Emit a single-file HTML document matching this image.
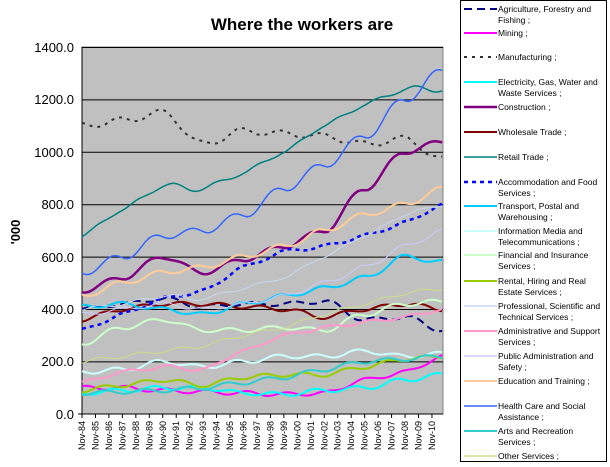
<!DOCTYPE html>
<html><head><meta charset="utf-8"><style>
body{margin:0;background:#fff;font-family:"Liberation Sans",Arial,sans-serif}
</style></head><body>
<svg id="s" width="610" height="462" xmlns="http://www.w3.org/2000/svg" font-family="Liberation Sans, Arial, sans-serif">
<rect x="0" y="0" width="610" height="462" fill="#fff"/>
<text x="302" y="30" font-size="17" font-weight="bold" text-anchor="middle">Where the workers are</text>
<rect x="82" y="47" width="361" height="367" fill="#c0c0c0" stroke="#808080"/>
<g stroke="#000" stroke-width="1">
<line x1="82" x2="443" y1="47.5" y2="47.5"/><line x1="82" x2="443" y1="99.9" y2="99.9"/>
<line x1="82" x2="443" y1="152.3" y2="152.3"/><line x1="82" x2="443" y1="204.7" y2="204.7"/>
<line x1="82" x2="443" y1="257.1" y2="257.1"/><line x1="82" x2="443" y1="309.5" y2="309.5"/>
<line x1="82" x2="443" y1="361.9" y2="361.9"/>
<line x1="82" x2="82" y1="47" y2="414"/><line x1="78" x2="443" y1="414" y2="414"/>
</g>
<g font-size="13" text-anchor="end">
<text x="74" y="52">1400.0</text><text x="74" y="104">1200.0</text><text x="74" y="157">1000.0</text>
<text x="74" y="209">800.0</text><text x="74" y="262">600.0</text><text x="74" y="314">400.0</text>
<text x="74" y="366">200.0</text><text x="74" y="419">0.0</text>
</g>
<text transform="translate(20,232) rotate(-90)" font-size="13" font-weight="bold" text-anchor="middle">'000</text>
<g id="ticks" font-size="9"></g>
<g id="series" fill="none"></g>
<rect x="460.5" y="0.5" width="146" height="461" fill="#fff" stroke="#000"/>
<g id="leg" font-size="8.5"></g>
</svg>
<script>
var Y=function(v){return 414-v*0.2621};
var X=function(t){return 82+13.46*t};
var ts=[0,3,6,9,12,15,18,21,24,26.8];
var S=[
["#000080",2,"8,5",[400,420,440,410,420,420,430,360,370,320],"Agriculture, Forestry and|Fishing ;"],
["#ff00ff",2,"",[100,100,90,85,80,75,80,130,160,220],"Mining ;"],
["#333",2,"3,5",[1100,1120,1150,1030,1080,1070,1060,1030,1050,970],"Manufacturing ;"],
["#00ffff",2,"",[80,90,100,100,80,75,90,100,130,150],"Electricity, Gas, Water and|Waste Services ;"],
["#800080",2.5,"",[470,520,600,540,590,640,700,860,1000,1040],"Construction ;"],
["#800000",2,"",[360,400,420,420,410,400,370,400,420,400],"Wholesale Trade ;"],
["#008080",1.5,"",[680,780,870,860,920,1000,1100,1180,1240,1240],"Retail Trade ;"],
["#0000ff",2.5,"4,4",[320,380,440,470,560,620,640,680,730,800],"Accommodation and Food|Services ;"],
["#00ccff",2,"",[410,420,400,380,420,450,480,520,600,580],"Transport, Postal and|Warehousing ;"],
["#ccffff",2,"",[160,170,200,180,200,220,220,240,220,230],"Information Media and|Telecommunications ;"],
["#ccffcc",2,"",[270,330,360,320,320,330,320,380,420,430],"Financial and Insurance|Services ;"],
["#99cc00",2,"",[90,110,130,110,140,150,150,180,210,220],"Rental, Hiring and Real|Estate Services ;"],
["#c8d8f0",1,"",[400,420,450,440,480,520,600,680,760,800],"Professional, Scientific and|Technical Services ;"],
["#ff99cc",2,"",[120,160,180,170,240,300,330,350,370,400],"Administrative and Support|Services ;"],
["#ccccff",1,"",[380,400,420,400,420,450,500,560,640,700],"Public Administration and|Safety ;"],
["#ffcc99",2,"",[450,500,540,560,600,640,700,760,800,860],"Education and Training ;"],
["#3366ff",1.5,"",[540,600,680,700,760,860,950,1060,1200,1310],"Health Care and Social|Assistance ;"],
["#33cccc",2,"",[80,85,90,100,120,140,170,200,210,220],"Arts and Recreation|Services ;"],
["#ccdd88",1,"",[200,220,240,260,300,330,380,420,460,480],"Other Services ;"]
];
var ns="http://www.w3.org/2000/svg",g=document.getElementById("series"),L=document.getElementById("leg"),T=document.getElementById("ticks");
function interp(v,t){for(var i=0;i<ts.length-1;i++){if(t<=ts[i+1]){var f=(t-ts[i])/(ts[i+1]-ts[i]);f=(1-Math.cos(f*Math.PI))/2;return v[i]+(v[i+1]-v[i])*f}}return v[v.length-1]}
S.forEach(function(s,k){var d="";for(var t=0;t<=26.8;t+=0.25){var v=interp(s[3],t)+Math.sin(t*2.1+k)*8*(s[3][0]>500?1.5:1);d+=(d?"L":"M")+X(t).toFixed(1)+","+Y(v).toFixed(1)}
var p=document.createElementNS(ns,"path");p.setAttribute("d",d);p.setAttribute("stroke",s[0]);p.setAttribute("stroke-width",s[1]);if(s[2])p.setAttribute("stroke-dasharray",s[2]);g.appendChild(p);});
var ly=[9,33,57,82,107,132,157,182,206,231,255,281,306,331,356,381,406,431,456];
S.forEach(function(s,k){var y=ly[k];var l=document.createElementNS(ns,"line");l.setAttribute("x1",464);l.setAttribute("x2",497);l.setAttribute("y1",y);l.setAttribute("y2",y);l.setAttribute("stroke",s[0]);l.setAttribute("stroke-width",Math.max(s[1],1.5));if(s[2])l.setAttribute("stroke-dasharray",s[2]);L.appendChild(l);
s[4].split("|").forEach(function(tx,j){var e=document.createElementNS(ns,"text");e.setAttribute("x",498);e.setAttribute("y",y+3+j*11);e.textContent=tx;L.appendChild(e);});});
for(var i=0;i<=26;i++){var x=X(i);var l=document.createElementNS(ns,"line");l.setAttribute("x1",x);l.setAttribute("x2",x);l.setAttribute("y1",414);l.setAttribute("y2",418);l.setAttribute("stroke","#000");T.appendChild(l);
var e=document.createElementNS(ns,"text");var yy=(84+i)%100;e.textContent="Nov-"+(yy<10?"0":"")+yy;e.setAttribute("transform","translate("+(x+3)+",421) rotate(-90)");e.setAttribute("text-anchor","end");T.appendChild(e);}
</script>
</body></html>
